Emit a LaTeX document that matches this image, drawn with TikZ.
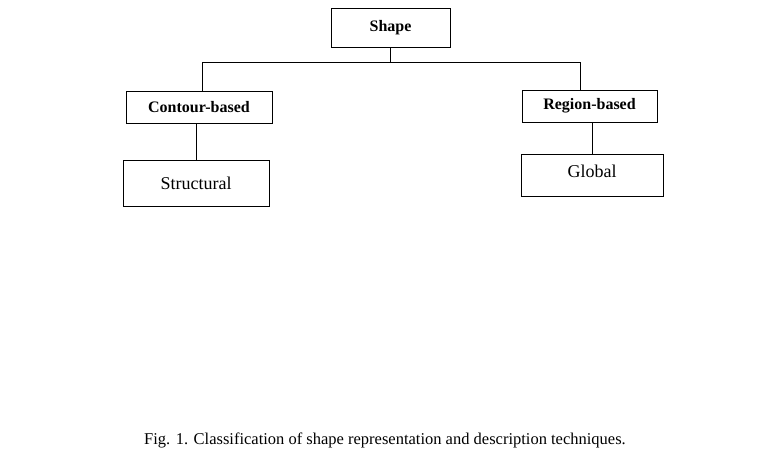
\documentclass[tikz,border=0pt]{standalone}
\usepackage{fontspec}
\setmainfont{Liberation Serif}
\usetikzlibrary{positioning}

\begin{document}
\begin{tikzpicture}[x=1pt, y=-1pt]
    % settings for this picture
    \tikzset{
      box/.style={draw, line width=0.9pt, inner sep=0pt},
      headbox/.style={box, font=\fontsize{16}{19}\selectfont\bfseries},
      leafbox/.style={box, font=\fontsize{18}{21}\selectfont},
    }
    \useasboundingbox (0,0) rectangle (765,467);

    % boxes
    \node[headbox, minimum width=119pt, minimum height=39pt] (shape) at (390.5,27.5) {Shape};
    \node[headbox, minimum width=146pt, minimum height=32pt] (contour) at (199,107) {Contour-based};
    \node[headbox, minimum width=135pt, minimum height=32pt] (region) at (589.5,106) {Region-based};
    \node[leafbox, minimum width=146pt, minimum height=46pt] (structural) at (196,183) {Structural};
    \node[leafbox, minimum width=142pt, text height=23pt, text depth=19pt, anchor=north] (global) at (592,154) {Global};

    % caption
    \node[font=\fontsize{16.5}{20}\selectfont] (caption) at (385,440)
      {Fig. 1. Classification of shape representation and description techniques.};

    % connectors
    \coordinate (forkl) at (202,62);
    \coordinate (forkr) at (580,62);
    \draw[line width=0.9pt] (shape.south) -- (shape.south |- forkl);
    \draw[line width=0.9pt] (forkl |- contour.north) -- (forkl) -- (forkr) -- (forkr |- region.north);
    \draw[line width=0.9pt] (structural.north) -- (structural.north |- contour.south);
    \draw[line width=0.9pt] (global.north) -- (global.north |- region.south);

\end{tikzpicture}
\end{document}
